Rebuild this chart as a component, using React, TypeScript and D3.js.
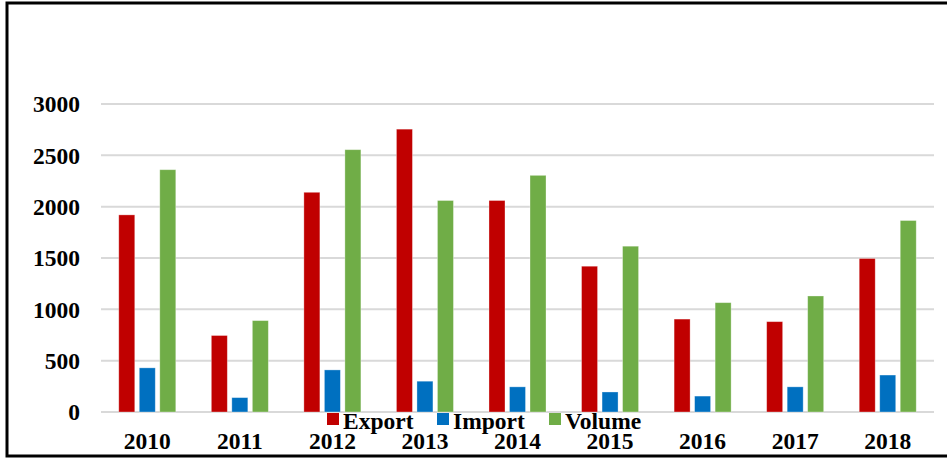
import React, { useEffect, useRef } from "react";
import * as d3 from "d3";

const years = ["2010", "2011", "2012", "2013", "2014", "2015", "2016", "2017", "2018"];
const exportVals = [1920, 745, 2140, 2755, 2060, 1420, 905, 880, 1495];
const importVals = [430, 140, 410, 300, 245, 195, 155, 245, 360];
const volumeVals = [2360, 890, 2555, 2060, 2305, 1615, 1065, 1130, 1865];
const seriesNames = ["Export", "Import", "Volume"];
const seriesColors = ["#C00000", "#0070C0", "#70AD47"];
const yTicks = [0, 500, 1000, 1500, 2000, 2500, 3000];

export default function App() {
  const ref = useRef<SVGSVGElement>(null);
  useEffect(() => {
    const svg = d3.select(ref.current);
    svg.selectAll("*").remove();
    const W = 947, H = 460;
    const left = 101, right = 934, top = 104, bottom = 412;
    const font = "'Liberation Serif', 'Times New Roman', serif";
    const fs = 23.5;

    svg.append("rect").attr("x", 0).attr("y", 0).attr("width", W).attr("height", H).attr("fill", "#fff");
    svg.append("rect").attr("x", 7).attr("y", 3).attr("width", 980).attr("height", 453)
      .attr("fill", "none").attr("stroke", "#000").attr("stroke-width", 3);

    const y = d3.scaleLinear().domain([0, 3000]).range([bottom, top]);
    const x0 = d3.scaleBand().domain(years).range([left, right]).paddingInner(0.384).paddingOuter(0.192);
    const x1 = d3.scaleBand().domain(seriesNames).range([0, x0.bandwidth()]).paddingInner(0.22);

    const g = svg.append("g");
    g.selectAll("line.grid").data(yTicks).enter().append("line")
      .attr("x1", left).attr("x2", right)
      .attr("y1", (d) => y(d)).attr("y2", (d) => y(d))
      .attr("stroke", "#d9d9d9").attr("stroke-width", 2);

    g.selectAll("text.ytick").data(yTicks).enter().append("text")
      .attr("x", 80).attr("y", (d) => y(d)).attr("dy", "0.35em")
      .attr("text-anchor", "end").attr("font-family", font).attr("font-weight", "bold")
      .attr("font-size", fs).attr("fill", "#000").text((d) => String(d));

    const data = [exportVals, importVals, volumeVals];
    data.forEach((vals, si) => {
      g.selectAll(`rect.s${si}`).data(vals).enter().append("rect")
        .attr("x", (_, i) => (x0(years[i]) as number) + (x1(seriesNames[si]) as number))
        .attr("width", x1.bandwidth())
        .attr("y", (d) => y(d))
        .attr("height", (d) => bottom - y(d))
        .attr("fill", seriesColors[si])
        .attr("stroke", "#fff").attr("stroke-opacity", 0.4).attr("stroke-width", 0.8);
    });

    g.selectAll("text.xtick").data(years).enter().append("text")
      .attr("x", (d) => (x0(d) as number) + x0.bandwidth() / 2).attr("y", 449)
      .attr("text-anchor", "middle").attr("font-family", font).attr("font-weight", "bold")
      .attr("font-size", fs).attr("fill", "#000").text((d) => d);

    const legendX = [327, 437, 549];
    seriesNames.forEach((n, i) => {
      svg.append("rect").attr("x", legendX[i]).attr("y", 413).attr("width", 12).attr("height", 12)
        .attr("fill", seriesColors[i]);
      svg.append("text").attr("x", legendX[i] + 16).attr("y", 429)
        .attr("font-family", font).attr("font-weight", "bold").attr("font-size", fs)
        .attr("fill", "#000").text(n);
    });
  }, []);
  return (
    <svg ref={ref} width={947} height={460} style={{ position: "absolute", left: 0, top: 0 }} />
  );
}
